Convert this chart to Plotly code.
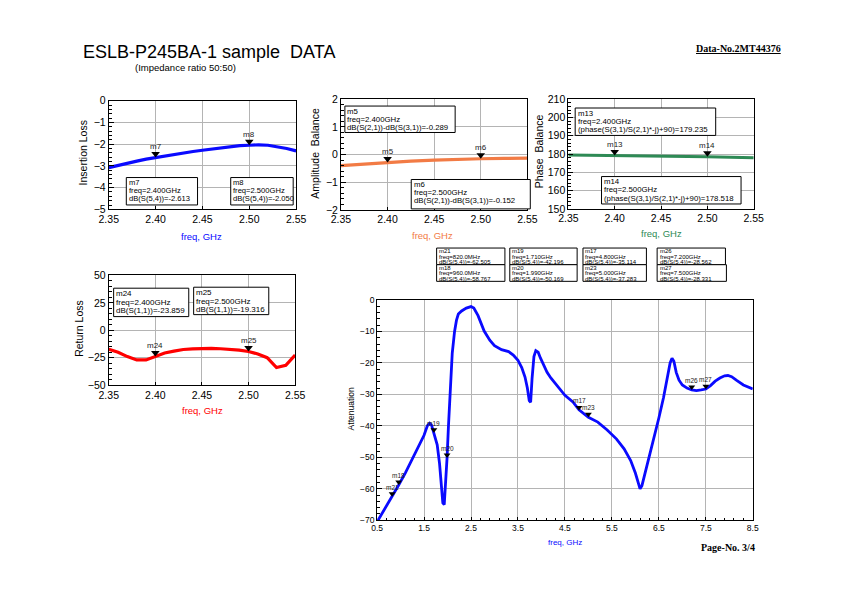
import plotly.graph_objects as go

# The page body keeps the browser's default 8px margin, so the figure is
# sized to fill the remaining area exactly.
PAGE_W, PAGE_H = 842, 595
OFF = 8
W, H = PAGE_W - 2 * OFF, PAGE_H - 2 * OFF

# ---------------- data ----------------
# Insertion loss  dB(S(5,4))
il_freq = [2.35, 2.36, 2.37, 2.38, 2.39, 2.40, 2.41, 2.42, 2.43, 2.44, 2.45,
           2.46, 2.47, 2.48, 2.49, 2.50, 2.51, 2.52, 2.53, 2.54, 2.55]
il_db = [-3.08, -2.97, -2.87, -2.78, -2.69, -2.613, -2.54, -2.47, -2.40, -2.34, -2.28,
         -2.22, -2.16, -2.11, -2.07, -2.05, -2.03, -2.05, -2.11, -2.20, -2.31]
il_mk_name = ["m7", "m8"]
il_mk_freq = [2.40, 2.50]
il_mk_val = [-2.613, -2.050]

# Amplitude balance  dB(S(2,1))-dB(S(3,1))
ab_freq = [2.35, 2.375, 2.40, 2.425, 2.45, 2.475, 2.50, 2.525, 2.55]
ab_db = [-0.40, -0.34, -0.289, -0.24, -0.20, -0.17, -0.152, -0.14, -0.13]
ab_mk_name = ["m5", "m6"]
ab_mk_freq = [2.40, 2.50]
ab_mk_val = [-0.289, -0.152]

# Phase balance
pb_freq = [2.35, 2.375, 2.40, 2.425, 2.45, 2.475, 2.50, 2.525, 2.55]
pb_deg = [179.45, 179.35, 179.235, 179.05, 178.9, 178.7, 178.518, 178.25, 177.95]
pb_mk_name = ["m13", "m14"]
pb_mk_freq = [2.40, 2.50]
pb_mk_val = [179.235, 178.518]

# Return loss dB(S(1,1))
rl_freq = [2.35, 2.36, 2.37, 2.38, 2.39, 2.40, 2.41, 2.42, 2.43, 2.44, 2.45,
           2.46, 2.47, 2.48, 2.49, 2.50, 2.51, 2.52, 2.53, 2.54, 2.55]
rl_db = [-17.2, -20.0, -24.0, -27.0, -27.0, -23.859, -20.7, -19.0, -17.5, -16.9, -16.6,
         -16.5, -16.8, -17.2, -18.0, -19.316, -21.6, -25.0, -34.0, -32.0, -22.5]
rl_mk_name = ["m24", "m25"]
rl_mk_freq = [2.40, 2.50]
rl_mk_val = [-23.859, -19.316]

# Attenuation wide band dB(S(5,4))
att_freq = [0.52, 0.6, 0.7, 0.82, 0.96, 1.1, 1.26, 1.4, 1.5, 1.57, 1.62, 1.66, 1.71,
            1.78, 1.83, 1.87, 1.9, 1.93, 1.96, 1.99, 2.02, 2.06, 2.1, 2.15, 2.19, 2.23,
            2.3, 2.4, 2.5, 2.56, 2.65, 2.78, 2.9, 3.0, 3.15, 3.3, 3.4, 3.5, 3.58, 3.65,
            3.7, 3.74, 3.77, 3.8, 3.84, 3.88, 3.93, 3.98, 4.05, 4.12, 4.2, 4.33, 4.5,
            4.67, 4.8, 5.0, 5.2, 5.4, 5.6, 5.76, 5.9, 6.0, 6.07, 6.1, 6.14, 6.2, 6.3,
            6.4, 6.5, 6.6, 6.68, 6.74, 6.78, 6.82, 6.87, 6.93, 7.0, 7.1, 7.2, 7.3, 7.4,
            7.5, 7.6, 7.7, 7.8, 7.9, 7.97, 8.05, 8.15, 8.3, 8.5]
att_db = [-70.0, -68.0, -65.5, -62.5, -58.8, -55.0, -50.0, -46.0, -43.0, -40.0, -39.2,
          -39.8, -42.2, -46.0, -52.0, -59.0, -64.5, -65.0, -58.0, -50.2, -40.0, -27.0,
          -17.0, -10.0, -6.5, -4.5, -3.5, -2.6, -2.1, -2.6, -5.0, -9.9, -12.8, -14.5,
          -15.8, -16.4, -17.5, -19.2, -21.5, -24.5, -28.0, -32.0, -32.5, -25.0, -18.0,
          -16.1, -16.6, -18.5, -21.0, -23.0, -24.8, -27.2, -30.3, -32.4, -34.9, -37.283,
          -38.8, -41.3, -44.2, -47.3, -51.0, -55.0, -59.0, -60.0, -59.0, -55.5, -49.0,
          -43.0, -37.5, -31.0, -25.0, -20.0, -18.5, -19.5, -23.0, -25.5, -27.0, -28.0,
          -28.6, -28.8, -28.6, -28.3, -27.2, -25.8, -24.8, -24.1, -24.0, -24.4, -25.5,
          -27.0, -28.3]
att_mk_name = ["m21", "m18", "m19", "m20", "m17", "m23", "m26", "m27"]
att_mk_freq = [0.82, 0.96, 1.71, 1.99, 4.8, 5.0, 7.2, 7.5]
att_mk_val = [-62.505, -58.767, -42.196, -50.169, -35.114, -37.283, -28.562, -28.331]

# tick labels
narrow_xticks = [2.35, 2.40, 2.45, 2.50, 2.55]
il_yticks = [0, -1, -2, -3, -4, -5]
ab_yticks = [2, 1, 0, -1, -2]
pb_yticks = [210, 200, 190, 180, 170, 160, 150]
rl_yticks = [50, 25, 0, -25, -50]
att_xticks = [0.5, 1.5, 2.5, 3.5, 4.5, 5.5, 6.5, 7.5, 8.5]
att_yticks = [0, -10, -20, -30, -40, -50, -60, -70]

# ---------------- helpers ----------------
FONT = "Liberation Sans, Arial, sans-serif"
SERIF = "Liberation Serif, Times New Roman, serif"


def px(x):
    return (x - OFF) / W


def py(y):
    return 1 - (y - OFF) / H


fig = go.Figure()
shapes = []
annotations = []


def axis_pair(n, xdom, ydom, xticks, yticks, xfmt, yminor, fs, xminor=None):
    sfx = "" if n == 1 else str(n)
    xa = dict(domain=[px(xdom[0]), px(xdom[1])], range=[xticks[0], xticks[-1]],
              tickmode="array", tickvals=xticks, tickformat=xfmt,
              showgrid=True, gridcolor="#b4b4b4", gridwidth=1,
              showline=True, linecolor="black", linewidth=1, mirror=True,
              ticks="inside", ticklen=3, tickcolor="black",
              tickfont=dict(family=FONT, size=fs, color="black"),
              zeroline=False, anchor="y" + sfx, fixedrange=True)
    if xminor:
        xa["minor"] = dict(ticks="inside", ticklen=2, dtick=xminor, tick0=xticks[0],
                           tickcolor="black", showgrid=False)
    ya = dict(domain=[py(ydom[1]), py(ydom[0])], range=[min(yticks), max(yticks)],
              tickmode="array", tickvals=yticks,
              showgrid=True, gridcolor="#b4b4b4", gridwidth=1,
              showline=True, linecolor="black", linewidth=1, mirror=True,
              ticks="inside", ticklen=5, tickcolor="black",
              tickfont=dict(family=FONT, size=fs, color="black"),
              minor=dict(ticks="inside", ticklen=3, dtick=yminor, tick0=0,
                         tickcolor="black", showgrid=False),
              zeroline=False, anchor="x" + sfx, fixedrange=True)
    fig.update_layout(**{"xaxis" + sfx: xa, "yaxis" + sfx: ya})
    return "x" + sfx, "y" + sfx


def markers(xr, yr, names, fx, fy, yticks, ydom, size, lab_fs, lab_shift):
    # downward triangle whose tip sits on the trace value
    units_per_px = (max(yticks) - min(yticks)) / (ydom[1] - ydom[0])
    ycen = [v + (size / 2.0) * units_per_px for v in fy]
    fig.add_trace(go.Scatter(x=fx, y=ycen, xaxis=xr, yaxis=yr, mode="markers",
                             marker=dict(symbol="triangle-down", size=size, color="black",
                                         line=dict(width=0)),
                             hoverinfo="skip", cliponaxis=False))
    for name, f, v in zip(names, fx, fy):
        annotations.append(dict(x=f, y=v, xref=xr, yref=yr, text=name, showarrow=False,
                                xanchor="center", yanchor="middle", yshift=lab_shift,
                                borderpad=0,
                                font=dict(family=FONT, size=lab_fs, color="#222")))


def box(x0, y0, x1, y1, lines, fs, lh, first):
    shapes.append(dict(type="rect", xref="paper", yref="paper", x0=px(x0), x1=px(x1),
                       y0=py(y1), y1=py(y0), line=dict(color="black", width=1),
                       fillcolor="white", layer="above"))
    for i, t in enumerate(lines):
        annotations.append(dict(x=px(x0 + 1.5), y=py(y0 + first + i * lh), xref="paper",
                                yref="paper", text=t, showarrow=False, xanchor="left",
                                yanchor="middle", borderpad=0,
                                font=dict(family=FONT, size=fs, color="black")))


def fmt_freq(f):
    return "freq=%.1fMHz" % (f * 1000) if f < 1 else "freq=%.3fGHz" % f


def title(x, y, t, fs, color="black", angle=0):
    annotations.append(dict(x=px(x), y=py(y), xref="paper", yref="paper", text=t,
                            showarrow=False, textangle=angle, xanchor="center",
                            yanchor="middle", font=dict(family=FONT, size=fs, color=color)))


BLUE = "#0a0aff"
ORANGE = "#f27b45"
GREEN = "#2e8a55"
RED = "#ff0000"

# ---- plot 1: insertion loss ----
dom = (96.5, 207.5)
xr, yr = axis_pair(1, (101, 293), dom, narrow_xticks, il_yticks, ".2f", 0.2, 10.5)
fig.add_trace(go.Scatter(x=il_freq, y=il_db, xaxis=xr, yaxis=yr, mode="lines",
                         line=dict(color=BLUE, width=3.2), hoverinfo="skip"))
markers(xr, yr, il_mk_name, il_mk_freq, il_mk_val, il_yticks, dom, 7.5, 8, 11)
for (x0, x1), n, f, v in zip([(119, 192), (226, 290)], il_mk_name, il_mk_freq, il_mk_val):
    box(x0, 175, x1, 203, [n, fmt_freq(f), "dB(S(5,4))=%.3f" % v], 7.6, 8.2, 5.5)
title(75, 150, "Insertion Loss", 10.5, angle=-90)
title(196, 235, "freq, GHz", 9.5, BLUE)

# ---- plot 2: amplitude balance ----
dom = (95, 208)
xr, yr = axis_pair(2, (339, 530), dom, narrow_xticks, ab_yticks, ".2f", 0.2, 10.5)
fig.add_trace(go.Scatter(x=ab_freq, y=ab_db, xaxis=xr, yaxis=yr, mode="lines",
                         line=dict(color=ORANGE, width=3.2), hoverinfo="skip"))
markers(xr, yr, ab_mk_name, ab_mk_freq, ab_mk_val, ab_yticks, dom, 7.5, 8, 11)
for (x0, y0, x1, y1), n, f, v in zip([(343, 102, 456, 129), (411, 177, 533, 207)],
                                     ab_mk_name, ab_mk_freq, ab_mk_val):
    box(x0, y0, x1, y1, [n, fmt_freq(f), "dB(S(2,1))-dB(S(3,1))=%.3f" % v], 7.8, 8.0, 5.5)
title(312, 150, "Amplitude\u00a0 Balance", 10.5, angle=-90)
title(433, 234, "freq, GHz", 9.5, ORANGE)

# ---- plot 3: phase balance ----
dom = (95, 207)
xr, yr = axis_pair(3, (572, 762), dom, narrow_xticks, pb_yticks, ".2f", 2, 10.5)
fig.add_trace(go.Scatter(x=pb_freq, y=pb_deg, xaxis=xr, yaxis=yr, mode="lines",
                         line=dict(color=GREEN, width=3.0), hoverinfo="skip"))
markers(xr, yr, pb_mk_name, pb_mk_freq, pb_mk_val, pb_yticks, dom, 7.5, 8, 11)
for (x0, y0, x1, y1), n, f, v in zip([(579, 104, 723, 132), (606, 174, 749, 202)],
                                     pb_mk_name, pb_mk_freq, pb_mk_val):
    box(x0, y0, x1, y1, [n, fmt_freq(f), "(phase(S(3,1)/S(2,1)*-j)+90)=%.3f" % v], 7.8, 8.2, 5.5)
title(542, 148, "Phase\u00a0 Balance", 10.5, angle=-90)
title(667, 232, "freq, GHz", 9.5, GREEN)

# ---- plot 4: return loss ----
dom = (275, 387)
xr, yr = axis_pair(4, (101, 292), dom, narrow_xticks, rl_yticks, ".2f", 5, 10.5)
fig.add_trace(go.Scatter(x=rl_freq, y=rl_db, xaxis=xr, yaxis=yr, mode="lines",
                         line=dict(color=RED, width=3.2), hoverinfo="skip"))
markers(xr, yr, rl_mk_name, rl_mk_freq, rl_mk_val, rl_yticks, dom, 7.5, 8, 11)
for (x0, y0, x1, y1), n, f, v in zip([(106, 288, 183, 317), (188, 287, 265, 315)],
                                     rl_mk_name, rl_mk_freq, rl_mk_val):
    box(x0, y0, x1, y1, [n, fmt_freq(f), "dB(S(1,1))=%.3f" % v], 8, 8.8, 5.5)
title(71, 329, "Return Loss", 10.5, angle=-90)
title(197, 413, "freq, GHz", 9.5, RED)

# ---- plot 5: attenuation ----
dom = (300, 525)
xr, yr = axis_pair(5, (376, 761), dom, att_xticks, att_yticks, ".1f", 2, 8.5, 0.2)
fig.add_trace(go.Scatter(x=att_freq, y=att_db, xaxis=xr, yaxis=yr, mode="lines",
                         line=dict(color=BLUE, width=2.8), hoverinfo="skip"))
markers(xr, yr, att_mk_name, att_mk_freq, att_mk_val, att_yticks, dom, 6, 6.5, 9.5)
att_box_pos = {"m21": (437, 247, 507, 264), "m18": (437, 264, 507, 281),
               "m19": (512, 247, 581, 264), "m20": (512, 264, 581, 281),
               "m17": (587, 247, 652, 264), "m23": (587, 264, 652, 281),
               "m26": (663, 247, 733, 264), "m27": (663, 264, 734, 281)}
for n, f, v in zip(att_mk_name, att_mk_freq, att_mk_val):
    x0, y0, x1, y1 = att_box_pos[n]
    box(x0, y0, x1, y1, [n, fmt_freq(f), "dB(S(5,4))=%.3f" % v], 6.0, 5.4, 3.4)
title(349, 411, "Attenuation", 8.5, angle=-90)
title(569, 548, "freq, GHz", 8, BLUE)

# ---- page texts ----
annotations.append(dict(x=px(73), y=py(47), xref="paper", yref="paper",
                        text="ESLB-P245BA-1 sample\u00a0 DATA", showarrow=False,
                        xanchor="left", yanchor="middle",
                        font=dict(family=FONT, size=18, color="black")))
annotations.append(dict(x=px(126), y=py(63), xref="paper", yref="paper",
                        text="(Impedance ratio 50:50)", showarrow=False,
                        xanchor="left", yanchor="middle",
                        font=dict(family=FONT, size=9.5, color="black")))
annotations.append(dict(x=px(792), y=py(43), xref="paper", yref="paper",
                        text="<b><u>Data-No.2MT44376</u></b>", showarrow=False,
                        xanchor="right", yanchor="middle",
                        font=dict(family=SERIF, size=10, color="black")))
annotations.append(dict(x=px(765), y=py(553), xref="paper", yref="paper",
                        text="<b>Page-No. 3/4</b>", showarrow=False,
                        xanchor="right", yanchor="middle",
                        font=dict(family=SERIF, size=10, color="black")))

fig.update_layout(width=W, height=H, margin=dict(l=0, r=0, t=0, b=0),
                  paper_bgcolor="white", plot_bgcolor="white", showlegend=False,
                  shapes=shapes, annotations=annotations,
                  font=dict(family=FONT, color="black"))

fig.write_html("out.html", config={"displayModeBar": False})
